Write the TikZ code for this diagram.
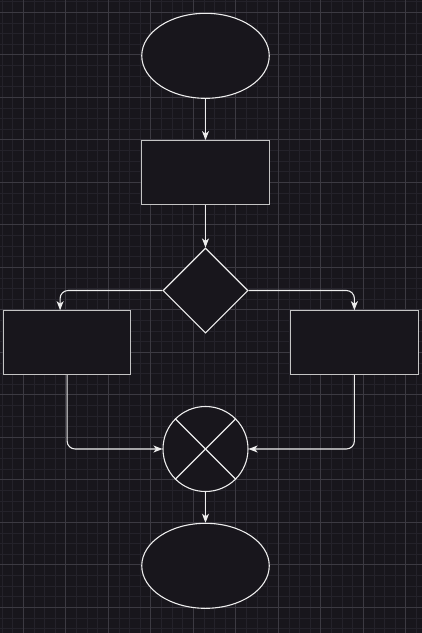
\documentclass[tikz,border=0pt]{standalone}
\usepackage{tikz}
\usetikzlibrary{shapes,arrows,arrows.meta}
\usepackage{xcolor}

\definecolor{bgcol}{HTML}{18161C}
\definecolor{minorcol}{HTML}{24222A}
\definecolor{majorcol}{HTML}{3C3A42}
\definecolor{edgecol}{HTML}{EDEDED}
\definecolor{boxcol}{HTML}{C4C4C4}

\tikzset{
  shape line/.style={draw=edgecol, line width=1.1pt, fill=bgcol},
  terminal/.style={shape line, ellipse, minimum width=127.5pt, minimum height=85pt, inner sep=0pt},
  process/.style={shape line, draw=boxcol, rectangle, minimum width=127.5pt, minimum height=63.75pt, inner sep=0pt},
  decision/.style={shape line, diamond, minimum width=85pt, minimum height=85pt, inner sep=0pt},
  junction/.style={shape line, circle, minimum size=85pt, inner sep=0pt},
  arr/.style={draw=edgecol, line width=1.1pt, -{Stealth[length=9pt,width=7pt,inset=2.5pt]}}
}

\begin{document}
\begin{tikzpicture}[x=1pt,y=-1pt]
     \useasboundingbox (0,0) rectangle (422,633);
     \fill [bgcol] (0,0) rectangle (422,633);
     % grid
     \foreach \i in {0,...,39}
        \draw [minorcol, line width=0.7pt] ({2.05+10.625*\i},0) -- ({2.05+10.625*\i},633);
     \foreach \j in {0,...,59}
        \draw [minorcol, line width=0.7pt] (0,{1.7+10.625*\j}) -- (422,{1.7+10.625*\j});
     \foreach \i in {0,...,9}
        \draw [majorcol, line width=0.7pt] ({23.3+42.5*\i},0) -- ({23.3+42.5*\i},633);
     \foreach \j in {0,...,14}
        \draw [majorcol, line width=0.7pt] (0,{12.3+42.5*\j}) -- (422,{12.3+42.5*\j});

     \node [terminal] (start) at (205.5,55.8) {};
     \node [process] (task) at (205.5,172.5) {};
     \node [decision] (choice) at (205.5,290.5) {};
     \node [process] (lbox) at (67.1,342.6) {};
     \node [process] (rbox) at (354.4,342.6) {};
     \node [junction] (merge) at (205.5,449) {};
     \draw [draw=edgecol, line width=1.1pt] (merge.north west) -- (merge.south east);
     \draw [draw=edgecol, line width=1.1pt] (merge.north east) -- (merge.south west);
     \node [terminal] (stop) at (205.5,565.8) {};

     \draw [arr] (start) -- (task);
     \draw [arr] (task) -- (choice);
     \draw [arr, rounded corners=8pt] (choice.west) -| ([xshift=-7pt]lbox.north);
     \draw [arr, rounded corners=8pt] (choice.east) -| (rbox.north);
     \draw [arr, rounded corners=8pt] (lbox.south) |- (merge.west);
     \draw [arr, rounded corners=8pt] (rbox.south) |- (merge.east);
     \draw [arr] (merge) -- (stop);
\end{tikzpicture}
\end{document}
